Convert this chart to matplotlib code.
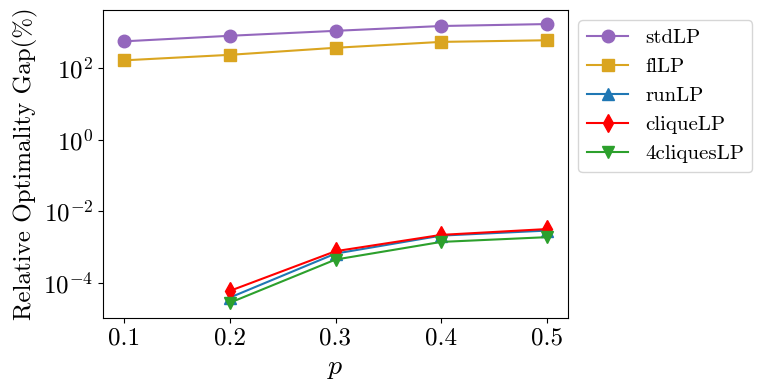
import matplotlib
matplotlib.use("Agg")
import matplotlib.pyplot as plt
from matplotlib.ticker import LogLocator, NullLocator

plt.rcParams['font.family'] = 'serif'
plt.rcParams['font.serif'] = ['cmr10', 'DejaVu Serif']
plt.rcParams['mathtext.fontset'] = 'cm'
plt.rcParams['axes.formatter.use_mathtext'] = True
plt.rcParams['axes.unicode_minus'] = False

p = [0.1, 0.2, 0.3, 0.4, 0.5]
p_low = [0.2, 0.3, 0.4, 0.5]
stdLP = [560, 800, 1100, 1500, 1700]
flLP = [165, 235, 370, 540, 600]
runLP = [3.9e-5, 6.6e-4, 2.1e-3, 2.9e-3]
cliqueLP = [6.0e-5, 7.7e-4, 2.2e-3, 3.2e-3]
cliques4LP = [2.8e-5, 4.5e-4, 1.4e-3, 1.9e-3]
xticks = [0.1, 0.2, 0.3, 0.4, 0.5]

fig = plt.figure(figsize=(7.59, 3.92), dpi=100)
ax = fig.add_axes([103/759, 1-318/392, (568-103)/759, (318-10)/392])

ms = 9
ax.plot(p, stdLP, marker='o', color='#9467bd', markersize=ms, label='stdLP')
ax.plot(p, flLP, marker='s', color='#DAA520', markersize=ms, label='flLP')
ax.plot(p_low, runLP, marker='^', color='#1f77b4', markersize=ms, label='runLP')
ax.plot(p_low, cliqueLP, marker='d', color='red', markersize=ms, label='cliqueLP')
ax.plot(p_low, cliques4LP, marker='v', color='#2ca02c', markersize=ms, label='4cliquesLP')

ax.set_yscale('log')
ax.set_ylim(1.05e-5, 4200)
ax.set_xlim(0.08, 0.52)
ax.yaxis.set_major_locator(LogLocator(base=100))
ax.yaxis.set_minor_locator(NullLocator())
ax.set_xticks(xticks)
ax.set_xticklabels([f'{v:.1f}' for v in xticks])
ax.tick_params(labelsize=18)
ax.set_xlabel('$p$', fontsize=20, labelpad=3.5)
ax.set_ylabel('Relative Optimality Gap(%)', fontsize=18)
ax.legend(loc='upper left', bbox_to_anchor=(1, 1), fontsize=15)

fig.savefig('out.png', dpi=100)
